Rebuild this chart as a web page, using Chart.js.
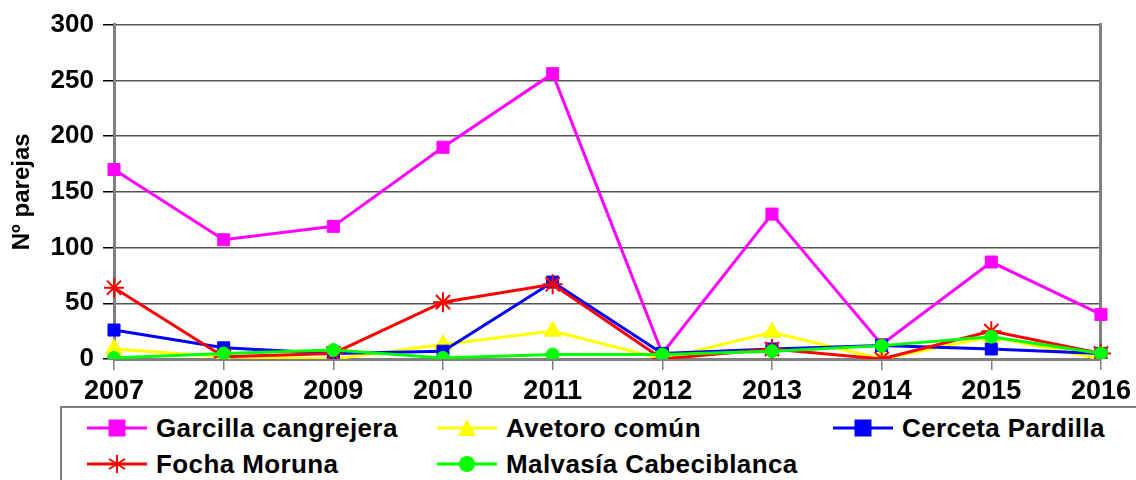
<!DOCTYPE html>
<html lang="es">
<head>
<meta charset="UTF-8">
<title>Nº parejas 2007-2016</title>
<script src="https://cdn.jsdelivr.net/npm/chart.js@4.4.1/dist/chart.umd.min.js"></script>
<style>
  html, body { margin: 0; padding: 0; background: #fff; }
  body { width: 1136px; height: 480px; position: relative; overflow: hidden;
         font-family: "Liberation Sans", Arial, sans-serif; }
  #wrap { position: absolute; left: 0; top: 0; width: 1136px; height: 400px; }
  #legend { position: absolute; left: 60px; top: 406px; width: 1100px; height: 90px;
            border: 2px solid #808080; box-sizing: border-box; }
  .item { position: absolute; display: flex; align-items: center; font-weight: bold;
          font-size: 26px; line-height: 30px; letter-spacing: 0.4px; color: #000; white-space: nowrap; }
  .item svg { margin-right: 9px; }
</style>
</head>
<body>
<div id="wrap"><canvas id="chart"></canvas></div>
<div id="legend"></div>

<script>
// Datos
const years = ['2007', '2008', '2009', '2010', '2011', '2012', '2013', '2014', '2015', '2016'];
const garcilla = [170, 107, 119, 190, 256, 5, 130, 13, 87, 40];
const avetoro = [9, 2, 0, 13, 25, 0, 24, 0, 20, 0];
const cerceta = [26, 10, 5, 7, 69, 5, 9, 12, 9, 5];
const focha = [64, 2, 5, 51, 67, 0, 9, 0, 25, 5];
const malvasia = [1, 5, 8, 1, 4, 4, 7, 12, 20, 5];

const series = [
  { label: 'Garcilla cangrejera', data: garcilla, color: '#ff00ff', style: 'rect', r: 8.5, order: 5 },
  { label: 'Avetoro común', data: avetoro, color: '#ffff00', style: 'triangle', r: 10, order: 4 },
  { label: 'Cerceta Pardilla', data: cerceta, color: '#0000ff', style: 'rect', r: 8.5, order: 3 },
  { label: 'Focha Moruna', data: focha, color: '#ff0000', style: 'star', r: 10, order: 2 },
  { label: 'Malvasía Cabeciblanca', data: malvasia, color: '#00ff00', style: 'circle', r: 6.5, order: 1 }
];

const family = '"Liberation Sans", Arial, sans-serif';

new Chart(document.getElementById('chart'), {
  type: 'line',
  data: {
    labels: years,
    datasets: series.map(s => ({
      label: s.label,
      data: s.data,
      borderColor: s.color,
      backgroundColor: s.color,
      borderWidth: 3,
      pointStyle: s.style,
      pointRadius: s.r,
      pointBorderWidth: s.style === 'star' ? 2 : 1,
      pointBackgroundColor: s.color,
      pointBorderColor: s.color,
      tension: 0,
      order: s.order
    }))
  },
  options: {
    responsive: true,
    maintainAspectRatio: false,
    animation: false,
    layout: { padding: { top: 19, left: 0, right: 0, bottom: 0 } },
    plugins: { legend: { display: false }, tooltip: { enabled: false } },
    scales: {
      x: {
        offset: false,
        grid: { drawOnChartArea: false, drawTicks: true, tickLength: 11, color: '#808080', lineWidth: 1.5 },
        border: { display: true, color: '#808080', width: 3 },
        ticks: { color: '#000', font: { family: family, size: 27, weight: 'bold' }, padding: 5, maxRotation: 0, autoSkip: false },
        afterFit: scale => { scale.height = 41; }
      },
      y: {
        min: 0,
        max: 300,
        ticks: { stepSize: 50, color: '#000', font: { family: family, size: 26, weight: 'bold' }, padding: 9 },
        grid: { color: '#555', lineWidth: 1.5, tickLength: 11, tickColor: '#000' },
        border: { display: true, color: '#808080', width: 3 },
        title: { display: true, text: 'Nº parejas', color: '#000',
                 font: { family: family, size: 24, weight: 'bold' }, padding: { top: 8, bottom: 0 } },
        afterFit: scale => { scale.width = 114; }
      },
      y2: {
        position: 'right',
        min: 0,
        max: 300,
        ticks: { display: false },
        grid: { drawOnChartArea: false, drawTicks: false },
        border: { display: true, color: '#808080', width: 3 },
        afterFit: scale => { scale.width = 33; }
      }
    }
  }
});

// Leyenda en HTML
const legendPos = [
  { x: 25, y: 5 }, { x: 375, y: 5 }, { x: 771, y: 5 },
  { x: 25, y: 41 }, { x: 375, y: 41 }
];

function markerSvg(s) {
  const c = s.color;
  let m = '';
  if (s.style === 'rect') m = `<rect x="21.5" y="1.5" width="17" height="17" fill="${c}"/>`;
  else if (s.style === 'triangle') m = `<polygon points="30,1 39,18 21,18" fill="${c}"/>`;
  else if (s.style === 'circle') m = `<circle cx="30" cy="10" r="8" fill="${c}"/>`;
  else m = `<g stroke="${c}" stroke-width="2"><line x1="30" y1="1" x2="30" y2="19"/>` +
           `<line x1="22" y1="5" x2="38" y2="15"/><line x1="22" y1="15" x2="38" y2="5"/></g>`;
  return `<svg width="60" height="20" viewBox="0 0 60 20"><line x1="0" y1="10" x2="60" y2="10" stroke="${c}" stroke-width="3"/>${m}</svg>`;
}

const legend = document.getElementById('legend');
series.forEach((s, i) => {
  const el = document.createElement('div');
  el.className = 'item';
  el.style.left = legendPos[i].x + 'px';
  el.style.top = legendPos[i].y + 'px';
  el.innerHTML = markerSvg(s) + '<span>' + s.label + '</span>';
  legend.appendChild(el);
});
</script>
</body>
</html>
